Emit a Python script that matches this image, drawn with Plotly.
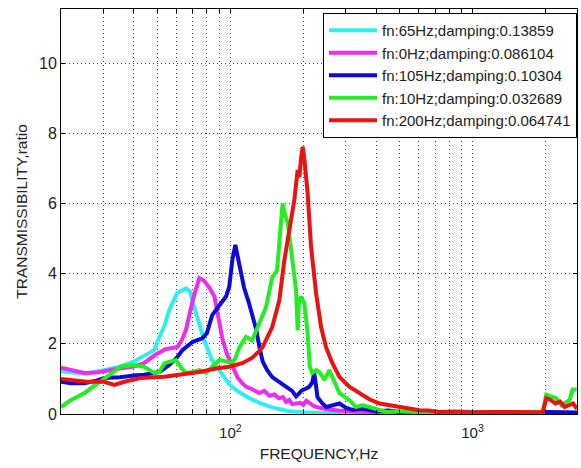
import plotly.graph_objects as go
import numpy as np

# ---------------- data ----------------
names = [
    "fn:65Hz;damping:0.13859",
    "fn:0Hz;damping:0.086104",
    "fn:105Hz;damping:0.10304",
    "fn:10Hz;damping:0.032689",
    "fn:200Hz;damping:0.064741",
]
colors = ["#30eef0", "#ee2cee", "#0c0cd4", "#22ee22", "#ea1212"]

cyan_f = [20, 25, 30, 35, 40, 44, 48.5, 51, 53.4, 56, 60.4, 65.6, 68, 72.2, 78, 84, 92.7, 99, 105, 109,
          120, 132, 150, 175, 200, 230, 270, 320, 400, 600, 1000, 1500, 1950, 2000, 2300, 2700]
cyan_v = [1.22, 1.15, 1.25, 1.35, 1.5, 1.65, 1.82, 2.2, 2.5, 2.97, 3.45, 3.58, 3.5, 2.88, 2.1, 1.54, 1.1, 0.85, 0.7, 0.62,
          0.45, 0.32, 0.18, 0.08, 0.05, 0.03, 0.02, 0.02, 0.02, 0.02, 0.02, 0.02, 0.02, 0.04, 0.03, 0.03]

mag_f = [20, 22, 25, 28, 30, 35, 40, 44, 49.3, 54, 57.6, 60.6, 63, 65.6, 70, 74.5, 78, 82, 86, 90, 93, 97, 102, 107,
         112, 116, 122, 127, 132, 138, 145, 152, 159, 165, 170, 175, 180, 187, 195, 200, 206, 210, 215, 222, 233, 245,
         260, 280, 300, 330, 400, 600, 1000, 1500, 1950, 2000, 2300, 2700]
mag_v = [1.32, 1.25, 1.17, 1.18, 1.22, 1.3, 1.35, 1.45, 1.7, 1.85, 1.88, 1.92, 2.1, 2.4, 3.25, 3.88, 3.8, 3.6, 3.35, 2.7,
         2.11, 1.7, 1.35, 1.05, 0.88, 0.78, 0.72, 0.66, 0.6, 0.66, 0.52, 0.56, 0.45, 0.48, 0.35, 0.4, 0.28, 0.3, 0.32,
         0.26, 0.38, 0.34, 0.28, 0.22, 0.18, 0.14, 0.12, 0.1, 0.08, 0.07, 0.05, 0.04, 0.03, 0.03, 0.03, 0.05, 0.03, 0.03]

blue_f = [20, 22, 25, 28, 30.2, 35, 40, 44, 48.5, 51, 56, 60, 63.4, 70, 76.6, 80, 84.2, 87.3, 92.7, 96, 99, 102,
          104.9, 107, 110.7, 114, 119, 124, 128, 132, 136, 142, 149, 160, 170, 180, 187, 193, 198, 205, 212, 218, 222,
          226, 229, 240, 249, 265, 282, 300, 319, 350, 400, 450, 500, 600, 700, 850, 1000, 1500, 1950, 2000, 2300, 2700]
blue_v = [0.92, 0.88, 0.88, 0.95, 1.03, 1.05, 1.1, 1.12, 1.17, 1.2, 1.4, 1.6, 1.82, 2.06, 2.16, 2.3, 2.82, 2.97, 3.25,
          3.35, 3.63, 4.4, 4.82, 4.5, 4.1, 3.6, 3.2, 2.8, 2.4, 1.9, 1.5, 1.25, 1.05, 0.9, 0.78, 0.66, 0.5, 0.6, 0.68,
          0.72, 0.78, 0.9, 1.17, 0.8, 0.48, 0.3, 0.2, 0.25, 0.3, 0.18, 0.12, 0.15, 0.08, 0.1, 0.06, 0.07, 0.05, 0.05,
          0.03, 0.03, 0.03, 0.06, 0.04, 0.04]

green_f = [20, 22, 25, 28, 30.2, 33, 35.3, 40, 44, 48.5, 50.9, 53.4, 56, 59.6, 63, 65.6, 70, 74.5, 79.4, 85, 90.1,
           96, 101.9, 105, 109, 116, 123, 132, 140.4, 149, 156, 162, 164.4, 168, 172.5, 176, 180.9, 186.8, 189.7,
           192, 195.9, 202.2, 208.6, 213, 218.2, 226, 233, 245, 256.5, 262, 269, 282, 295, 310, 330, 350, 375, 410,
           441, 500, 600, 750, 1000, 1300, 1600, 1950, 2016, 2100, 2218, 2326, 2450, 2518, 2588, 2690]
green_v = [0.2, 0.4, 0.6, 0.85, 1.03, 1.2, 1.35, 1.4, 1.35, 1.17, 1.2, 1.45, 1.5, 1.54, 1.3, 1.17, 1.2, 1.25, 1.17,
           1.35, 1.54, 1.5, 1.45, 1.6, 1.9, 2.2, 2.1, 2.6, 3.05, 3.9, 4.1, 5.5, 6.0, 5.7, 5.45, 5.0, 4.39, 3.54, 2.39,
           3.2, 3.34, 3.16, 2.3, 1.34, 1.17, 1.25, 1.2, 0.97, 1.25, 1.1, 0.97, 0.6, 0.5, 0.4, 0.2, 0.25, 0.2, 0.12,
           0.06, 0.08, 0.05, 0.05, 0.05, 0.04, 0.05, 0.05, 0.55, 0.5, 0.45, 0.25, 0.35, 0.4, 0.7, 0.7]

red_f = [20, 25.6, 30.2, 33.2, 36.5, 42.8, 53.4, 59.6, 74.5, 87.3, 99, 112, 123, 132, 136, 149, 159.4, 167.2, 175.3,
         183.8, 189.7, 192.8, 196, 199, 202, 208.6, 215.5, 226, 237, 248.6, 264, 282, 310, 341, 375, 413, 450, 499,
         550, 604, 660, 730, 850, 1000, 1200, 1500, 1800, 1950, 2016, 2100, 2200, 2300, 2400, 2500, 2600, 2700]
red_v = [1.0, 0.92, 0.92, 0.83, 0.92, 1.03, 1.06, 1.1, 1.2, 1.3, 1.35, 1.45, 1.6, 1.8, 1.91, 2.48, 3.25, 4.39, 5.33,
         6.1, 6.96, 6.76, 7.3, 7.62, 7.3, 6.3, 4.76, 3.45, 2.48, 1.9, 1.45, 1.06, 0.78, 0.6, 0.42, 0.3, 0.26, 0.2,
         0.15, 0.11, 0.1, 0.06, 0.07, 0.05, 0.06, 0.05, 0.06, 0.05, 0.45, 0.4, 0.3, 0.35, 0.2, 0.25, 0.3, 0.15]

series_f = [cyan_f, mag_f, blue_f, green_f, red_f]
series_v = [cyan_v, mag_v, blue_v, green_v, red_v]

x_major = [100, 1000]
x_major_text = ["10<sup>2</sup>", "10<sup>3</sup>"]
x_minor = [20, 30, 40, 50, 60, 70, 80, 90, 200, 300, 400, 500, 600, 700, 800, 900, 2000]
y_ticks = [0, 2, 4, 6, 8, 10]

# ---------------- figure ----------------
fig = go.Figure()
for n, c, f, v in zip(names, colors, series_f, series_v):
    fig.add_trace(go.Scatter(x=f, y=v, mode="lines", name=n,
                             line=dict(color=c, width=4)))

font = "Liberation Sans, Arial, sans-serif"
grid = dict(gridcolor="#444", griddash="1px,3px", gridwidth=1)
fig.update_layout(
    width=581, height=468,
    margin=dict(l=61, r=4, t=9, b=54),
    paper_bgcolor="white", plot_bgcolor="white",
    font=dict(family=font, size=15, color="#222"),
    showlegend=True,
    legend=dict(x=1.0, xanchor="right", y=0.99, yanchor="top",
                bgcolor="white", bordercolor="black", borderwidth=1,
                itemwidth=48,
                font=dict(size=15, color="#222"), tracegroupgap=0),
)
fig.update_xaxes(
    type="log", range=[np.log10(20), np.log10(2700)], automargin=False,
    tickmode="array", tickvals=x_major, ticktext=x_major_text,
    ticks="inside", ticklen=4, tickcolor="black", ticklabelstandoff=5,
    minor=dict(tickmode="array", tickvals=x_minor, ticks="inside", ticklen=4,
               tickcolor="black", showgrid=True, **grid),
    showline=True, linecolor="black", linewidth=1, mirror="ticks",
    showgrid=True, zeroline=False, **grid,
    title=dict(text="FREQUENCY,Hz", font=dict(size=15.5), standoff=8),
    tickfont=dict(size=15),
)
fig.update_yaxes(
    range=[0, 11.55], automargin=False,
    tickmode="array", tickvals=y_ticks,
    ticks="inside", ticklen=4, tickcolor="black",
    showline=True, linecolor="black", linewidth=1, mirror="ticks",
    showgrid=True, zeroline=False, **grid,
    title=dict(text="TRANSMISSIBILITY,ratio", font=dict(size=15.5), standoff=7),
    tickfont=dict(size=16),
)

fig.write_html("out.html", config={"displayModeBar": False},
               post_script="document.body.style.margin='0px';")
